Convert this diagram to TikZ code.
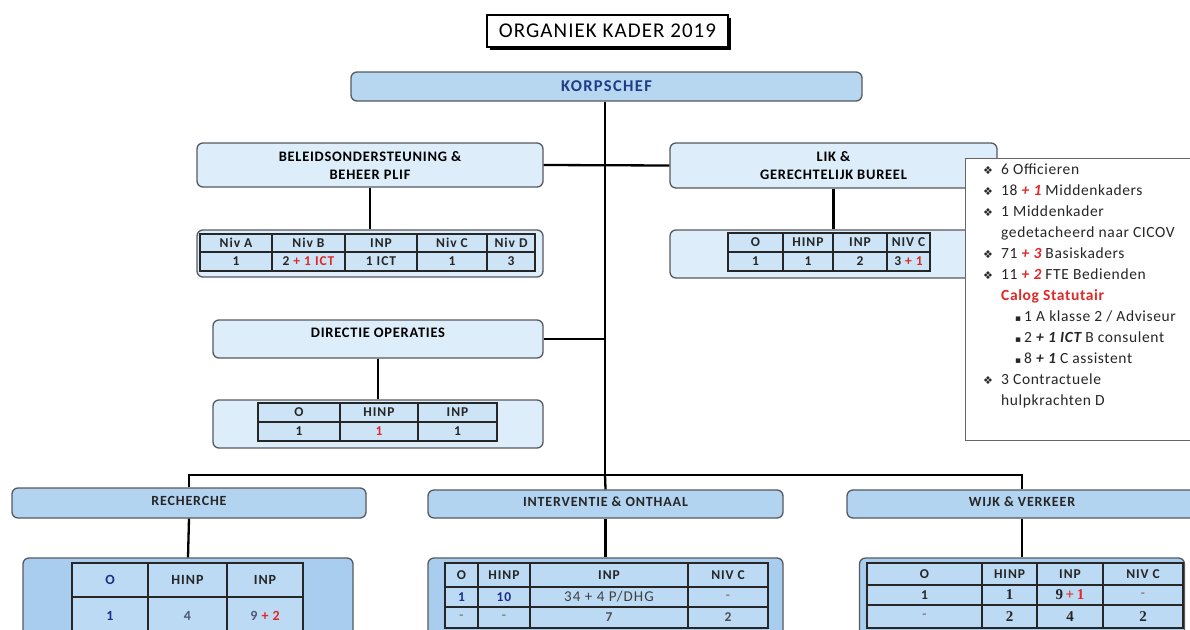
\documentclass[tikz,border=0pt]{standalone}
\usepackage{fontspec}
\setmainfont{Carlito}
\newfontfamily\dejavu{DejaVu Sans}
\newfontfamily\serifnum{Liberation Serif}
\definecolor{korpsfill}{HTML}{B7D7F1}
\definecolor{korpstext}{HTML}{1F3C88}
\definecolor{palefill}{HTML}{DDEDF9}
\definecolor{cellfill}{HTML}{CDE4F6}
\definecolor{lowfill}{HTML}{B3D4F1}
\definecolor{lowtab}{HTML}{A9CDEE}
\definecolor{lowcell}{HTML}{BCDAF3}
\definecolor{boxline}{HTML}{555A60}
\definecolor{redc}{HTML}{E02828}
\definecolor{darkblue}{HTML}{1A2E8A}
\definecolor{grayblue}{HTML}{4A5A78}
\newcommand\ls[1]{\addfontfeature{LetterSpace=#1}}
\newcommand\tc[6]{\draw[cellbox,fill=#5] (#1,#2) rectangle (#3,#4);
  \node[celltext] at ({(#1+#3)/2},{(#2+#4)/2}) {#6};}
\newcommand\bul{\makebox[18pt][l]{\raisebox{0.5pt}{\dejavu\fontsize{11}{11}\selectfont ❖}}}
\newcommand\sub{\hspace*{32pt}\makebox[9pt][l]{\dejavu\fontsize{9}{9}\selectfont ▪}}
\newcommand\ind{\hspace*{18pt}}
\newcommand\rd[1]{{\color{redc}#1}}
\begin{document}
\begin{tikzpicture}[x=1pt,y=-1pt,
  conn/.style={line width=2.3pt,black},
  tbox/.style={draw=boxline,line width=1.3pt,rounded corners=6pt,inner sep=0pt},
  upbox/.style={tbox,fill=palefill,font=\fontsize{14.5}{18}\selectfont\bfseries\ls{5},align=center},
  lowbox/.style={tbox,fill=lowfill,font=\fontsize{14}{14}\selectfont\bfseries\ls{6},text=black!85},
  cellbox/.style={draw=black!85,line width=1.3pt},
  celltext/.style={font=\fontsize{13.5}{13}\selectfont\bfseries\ls{7},inner sep=0pt,text=black!85}]
\useasboundingbox (0,0) rectangle (1190,629);
\clip (0,0) rectangle (1190,629);
\fill[white] (0,0) rectangle (1190,629);

% title
\fill[black] (490,18) rectangle (731,50);
\node[draw,fill=white,line width=1.2pt,minimum width=241,minimum height=32,inner sep=0pt,
  font=\fontsize{21}{22}\selectfont\ls{5}] (title) at (607.5,31) {ORGANIEK KADER 2019};

% korpschef
\node[tbox,fill=korpsfill,minimum width=511,minimum height=29,text=korpstext,
  font=\fontsize{16.5}{17}\selectfont\bfseries\ls{8}] (korps) at (606.5,86.5) {KORPSCHEF};

% upper boxes
\node[upbox,minimum width=346,minimum height=44] (beleid) at (370,165)
  {BELEIDSONDERSTEUNING \&\\BEHEER PLIF};
\node[upbox,minimum width=327,minimum height=45] (lik) at (833.5,165.5)
  {LIK \&\\GERECHTELIJK BUREEL};
\node[upbox,minimum width=346,minimum height=47] (beleidT) at (370,253.5) {};
\node[upbox,minimum width=327,minimum height=48] (likT) at (833.5,254) {};
\node[upbox,minimum width=330,minimum height=38,text depth=12pt] (directie) at (378,339) {DIRECTIE OPERATIES};
\node[upbox,minimum width=330,minimum height=48] (directieT) at (378,424) {};

% lower boxes
\node[lowbox,minimum width=354,minimum height=30,text depth=5pt] (rech) at (189,503) {RECHERCHE};
\node[lowbox,minimum width=355,minimum height=28,text depth=5pt] (interv) at (605.5,504) {INTERVENTIE \& ONTHAAL};
\node[lowbox,minimum width=350,minimum height=28,text depth=5pt] (wijk) at (1022,504) {WIJK \& VERKEER};
\node[tbox,fill=lowtab,minimum width=330,minimum height=90] (rechT) at (188,603) {};
\node[tbox,fill=lowtab,minimum width=355,minimum height=90] (intervT) at (605.5,603) {};
\node[tbox,fill=lowtab,minimum width=325,minimum height=90] (wijkT) at (1022,603) {};

% connectors
\coordinate (hub) at (605,475);
\coordinate (dirj) at (605,339);
\draw[conn] (korps.south -| hub) -- (hub);
\draw[conn] (beleid.east) -- (lik.west);
\draw[conn] (directie.east) -- (dirj);
\draw[conn] (beleid.south) -- (beleidT.north);
\draw[conn] (lik.south) -- (likT.north);
\draw[conn] (directie.south) -- (directieT.north);
\draw[conn] (rech.north) -- (rech.north |- hub) -- (wijk.north |- hub) -- (wijk.north);
\draw[conn] (hub) -- (interv.north);
\draw[conn] (rech.south) -- (rechT.north);
\draw[conn] (interv.south) -- (intervT.north);
\draw[conn] (wijk.south) -- (wijkT.north);

% beleid table
\tc{200}{234}{272}{252}{cellfill}{Niv A}
\tc{272}{234}{345}{252}{cellfill}{Niv B}
\tc{345}{234}{417}{252}{cellfill}{INP}
\tc{417}{234}{487}{252}{cellfill}{Niv C}
\tc{487}{234}{535}{252}{cellfill}{Niv D}
\tc{200}{252}{272}{271}{cellfill}{1}
\tc{272}{252}{345}{271}{cellfill}{2 \rd{+ 1 ICT}}
\tc{345}{252}{417}{271}{cellfill}{1 ICT}
\tc{417}{252}{487}{271}{cellfill}{1}
\tc{487}{252}{535}{271}{cellfill}{3}

% lik table
\tc{728}{233}{783}{252}{cellfill}{O}
\tc{783}{233}{833}{252}{cellfill}{HINP}
\tc{833}{233}{887}{252}{cellfill}{INP}
\tc{887}{233}{930}{252}{cellfill}{NIV C}
\tc{728}{252}{783}{271}{cellfill}{1}
\tc{783}{252}{833}{271}{cellfill}{1}
\tc{833}{252}{887}{271}{cellfill}{2}
\tc{887}{252}{930}{271}{cellfill}{3 \rd{+ 1}}

% directie table
\tc{258}{403}{340}{422}{cellfill}{O}
\tc{340}{403}{418}{422}{cellfill}{HINP}
\tc{418}{403}{497}{422}{cellfill}{INP}
\tc{258}{422}{340}{441}{cellfill}{1}
\tc{340}{422}{418}{441}{cellfill}{\rd{1}}
\tc{418}{422}{497}{441}{cellfill}{1}

% recherche table
\tc{72}{563}{148}{597}{lowcell}{\fontsize{14}{14}\selectfont\color{darkblue}O}
\tc{148}{563}{227}{597}{lowcell}{\fontsize{14}{14}\selectfont HINP}
\tc{227}{563}{303}{597}{lowcell}{\fontsize{14}{14}\selectfont INP}
\tc{72}{597}{148}{635}{lowcell}{\fontsize{14}{14}\selectfont\color{darkblue}1}
\tc{148}{597}{227}{635}{lowcell}{\fontsize{14}{14}\selectfont\color{grayblue}4}
\tc{227}{597}{303}{635}{lowcell}{\fontsize{14}{14}\selectfont\color{grayblue}9 \rd{+ 2}}

% interventie table
\tc{445}{563}{478}{587}{lowcell}{O}
\tc{478}{563}{530}{587}{lowcell}{HINP}
\tc{530}{563}{688}{587}{lowcell}{INP}
\tc{688}{563}{768}{587}{lowcell}{NIV C}
\tc{445}{587}{478}{607}{lowcell}{\color{darkblue}1}
\tc{478}{587}{530}{607}{lowcell}{\color{darkblue}10}
\tc{530}{587}{688}{607}{lowcell}{\mdseries\fontsize{15}{15}\selectfont\color{black!75}34 + 4 P/DHG}
\tc{688}{587}{768}{607}{lowcell}{\color{black!50}-}
\tc{445}{607}{478}{628}{lowcell}{\color{black!50}-}
\tc{478}{607}{530}{628}{lowcell}{\color{black!50}-}
\tc{530}{607}{688}{628}{lowcell}{\color{black!70}7}
\tc{688}{607}{768}{628}{lowcell}{\color{black!70}2}

% wijk table
\tc{867}{563}{982}{585}{lowcell}{O}
\tc{982}{563}{1037}{585}{lowcell}{HINP}
\tc{1037}{563}{1103}{585}{lowcell}{INP}
\tc{1103}{563}{1183}{585}{lowcell}{NIV C}
\tc{867}{585}{982}{605}{lowcell}{1}
\tc{982}{585}{1037}{605}{lowcell}{\serifnum\fontsize{15}{15}\selectfont 1}
\tc{1037}{585}{1103}{605}{lowcell}{\serifnum\fontsize{15}{15}\selectfont 9\,\rd{+\,1}}
\tc{1103}{585}{1183}{605}{lowcell}{\color{black!50}-}
\tc{867}{605}{982}{628}{lowcell}{\color{black!50}-}
\tc{982}{605}{1037}{628}{lowcell}{\serifnum\fontsize{15}{15}\selectfont 2}
\tc{1037}{605}{1103}{628}{lowcell}{\serifnum\fontsize{15}{15}\selectfont 4}
\tc{1103}{605}{1183}{628}{lowcell}{\serifnum\fontsize{15}{15}\selectfont 2}

% legend box
\draw[draw=black!60,fill=white,line width=1pt] (965,158) rectangle (1200,440);
\node[anchor=north west,align=left,inner sep=0pt,text=black!85,
  font=\fontsize{15.5}{21}\selectfont\ls{4}] (legend) at (983,164) {%
\bul 6 Officieren\\
\bul 18 \rd{\bfseries\itshape + 1} Middenkaders\\
\bul 1 Middenkader\\
\ind gedetacheerd naar CICOV\\
\bul 71 \rd{\bfseries\itshape + 3} Basiskaders\\
\bul 11 \rd{\bfseries\itshape + 2} FTE Bedienden\\
\ind\rd{\bfseries Calog Statutair}\\
\sub 1 A klasse 2 / Adviseur\\
\sub 2 {\bfseries\itshape + 1 ICT} B consulent\\
\sub 8 {\bfseries\itshape + 1} C assistent\\
\bul 3 Contractuele\\
\ind hulpkrachten D};
\end{tikzpicture}
\end{document}
